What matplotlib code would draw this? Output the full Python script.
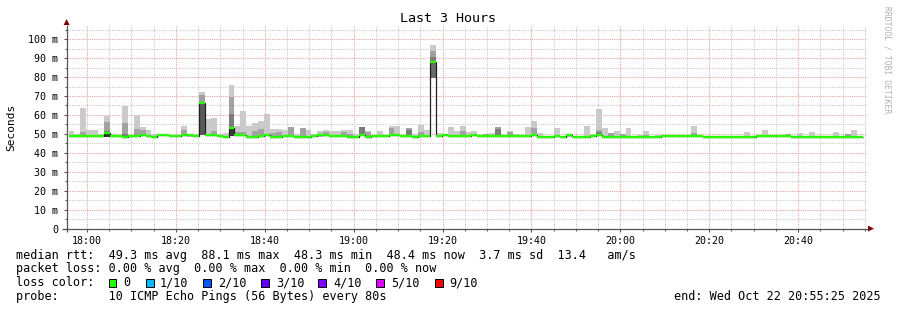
import numpy as np
import matplotlib
matplotlib.use("Agg")
import matplotlib.pyplot as plt
from matplotlib.ticker import MultipleLocator, FixedLocator, FuncFormatter
from matplotlib.patches import Rectangle, Polygon

# ---------------- data ----------------
start_min = 17 * 60 + 55 + 25 / 60.0      # graph start 17:55:25
end_min = 20 * 60 + 55 + 25 / 60.0        # graph end 20:55:25
first_bar_min = 17 * 60 + 55 + 51 / 60.0  # first probe slot 17:55:51
step_min = 80 / 60.0                      # probe every 80 s

median = [
    48.7, 49.0, 49.0, 49.0, 49.0, 48.8, 50.5, 49.0, 48.8, 48.5,
    48.8, 49.0, 49.3, 49.0, 48.4, 49.3, 49.5, 49.0, 48.8, 49.5,
    49.2, 49.0, 66.3, 49.3, 49.3, 49.0, 48.5, 53.3, 49.3, 49.3,
    48.6, 48.6, 48.8, 49.3, 48.6, 48.6, 48.8, 48.8, 48.6, 48.6,
    48.6, 49.0, 49.2, 49.3, 49.0, 49.0, 49.0, 48.6, 48.6, 49.6,
    48.6, 49.0, 49.0, 49.0, 49.3, 49.3, 49.0, 49.0, 48.6, 49.0,
    48.8, 88.1, 49.0, 49.3, 49.0, 49.0, 48.8, 49.0, 49.3, 49.0,
    48.8, 49.0, 48.8, 48.8, 49.0, 49.0, 49.0, 49.0, 49.5, 48.3,
    48.3, 48.3, 48.8, 48.3, 49.2, 48.3, 48.6, 48.6, 49.0, 49.3,
    48.3, 48.5, 48.5, 48.5, 48.5, 48.5, 48.5, 48.5, 48.5, 48.6,
    48.9, 48.9, 48.9, 48.9, 48.9, 48.9, 48.8, 48.5, 48.5, 48.5,
    48.5, 48.5, 48.5, 48.5, 48.5, 48.5, 48.8, 48.8, 48.8, 48.8,
    48.8, 48.8, 48.4, 48.4, 48.4, 48.4, 48.4, 48.4, 48.4, 48.4,
    48.4, 48.4, 48.4, 48.4,
]

# highest ping (lightest smoke top)
smoke_max = [
    51.6, 49.8, 63.8, 52.1, 52.0, 50.0, 59.6, 50.0, 49.5, 64.9,
    49.5, 60.1, 53.4, 52.0, 50.0, 49.8, 50.0, 49.5, 49.5, 54.4,
    50.0, 50.0, 72.3, 57.8, 58.4, 50.0, 50.5, 76.0, 54.3, 62.2,
    54.3, 56.0, 57.0, 60.5, 52.5, 52.5, 52.0, 53.6, 50.0, 53.1,
    52.0, 50.0, 51.7, 52.0, 51.6, 51.7, 52.1, 52.1, 50.0, 53.6,
    51.7, 49.5, 51.7, 49.5, 54.3, 54.3, 49.5, 53.0, 50.0, 54.8,
    52.0, 96.8, 50.5, 49.6, 53.4, 51.7, 54.3, 51.0, 51.7, 49.5,
    50.0, 50.5, 53.6, 49.5, 51.7, 50.0, 49.5, 53.6, 57.0, 50.5,
    48.8, 48.8, 53.0, 48.8, 49.5, 48.8, 49.0, 54.3, 50.0, 63.3,
    53.0, 50.3, 51.7, 50.0, 53.0, 48.8, 49.5, 51.7, 48.6, 49.6,
    49.0, 49.0, 49.0, 49.0, 49.0, 54.3, 49.0, 48.5, 48.5, 48.5,
    48.5, 48.5, 48.5, 48.5, 50.9, 48.8, 48.8, 52.1, 48.8, 48.8,
    48.8, 49.8, 48.4, 50.3, 48.4, 50.9, 48.4, 48.4, 48.4, 50.9,
    48.4, 49.8, 52.1, 48.4,
]

# medium smoke band top (index -> ms)
smoke_mid = {2: 51.2, 6: 56.4, 9: 56.0, 11: 52.7, 12: 51.8, 19: 52.0,
             22: 70.6, 24: 51.5, 27: 69.5, 28: 51.0, 29: 51.0, 31: 51.5,
             32: 52.5, 34: 50.5, 35: 51.0, 37: 53.6, 39: 53.1, 43: 51.0,
             46: 51.0, 47: 50.0, 49: 53.6, 50: 50.8, 54: 52.9, 57: 53.0,
             59: 51.0, 61: 93.6, 66: 51.7, 70: 50.0, 72: 53.6, 74: 51.0,
             78: 53.0, 89: 52.0, 91: 50.3, 93: 50.0, 97: 49.5, 105: 50.5,
             121: 49.8, 131: 49.8}

# dark smoke band top (index -> ms)
smoke_dark = {6: 51.4, 9: 50.0, 27: 60.5, 49: 53.6, 57: 52.1, 61: 90.5,
              72: 52.5, 89: 51.0}

# smoke below the median for the spikes: index -> (lowest ping, colour)
smoke_low = {6: (48.5, "#333333"),
             22: (49.5, "#5a5a5a"),
             27: (48.8, "#3a3a3a"),
             61: (79.6, "#6a6a6a")}

x_major = [18 * 60 + m for m in range(0, 180, 20)]
x_labels = ["18:00", "18:20", "18:40", "19:00", "19:20", "19:40",
            "20:00", "20:20", "20:40"]
y_major = list(range(0, 101, 10))

legend_lines = [
    "median rtt:  49.3 ms avg  88.1 ms max  48.3 ms min  48.4 ms now  3.7 ms sd  13.4   am/s",
    "packet loss: 0.00 % avg  0.00 % max  0.00 % min  0.00 % now",
    "loss color:",
    "probe:       10 ICMP Echo Pings (56 Bytes) every 80s",
]
loss_labels = ["0", "1/10", "2/10", "3/10", "4/10", "5/10", "9/10"]
loss_colors = ["#26ff00", "#00b8ff", "#0059ff", "#5e00ff", "#7e00ff", "#dd00ff", "#ff0000"]
end_text = "end: Wed Oct 22 20:55:25 2025"

# ---------------- figure ----------------
W, H = 897, 310
fig = plt.figure(figsize=(W / 100, H / 100), dpi=100)
fig.patch.set_facecolor("white")
MONO = "DejaVu Sans Mono"

L, R, T, B = 66.6, 866.6, 25.0, 228.6
ymax = (B - T) / 1.894
ax = fig.add_axes([L / W, 1 - B / H, (R - L) / W, (B - T) / H])
ax.set_xlim(start_min, end_min)
ax.set_ylim(0, ymax)
for s in ax.spines.values():
    s.set_visible(False)
ax.set_facecolor("white")

n_bars = len(median)
edges = first_bar_min + np.arange(n_bars + 1) * step_min
left = edges[:-1]
med = np.array(median)
base = med - 0.6

# smoke above the median
ax.bar(left, np.array(smoke_max) - base, bottom=base, width=step_min,
       align="edge", color="#cacaca", linewidth=0, zorder=2)
mi = np.array(sorted(smoke_mid))
ax.bar(left[mi], np.array([smoke_mid[i] for i in mi]) - base[mi], bottom=base[mi],
       width=step_min, align="edge", color="#a2a2a2", linewidth=0, zorder=3)
di = np.array(sorted(smoke_dark))
ax.bar(left[di], np.array([smoke_dark[i] for i in di]) - base[di], bottom=base[di],
       width=step_min, align="edge", color="#7c7c7c", linewidth=0, zorder=4)
# smoke below the median
for i, (lo, col) in smoke_low.items():
    ax.bar(left[i], med[i] - lo, bottom=lo, width=step_min, align="edge",
           color=col, linewidth=0, zorder=5)

# median: thin dark line with vertical joins, then loss-coloured segments
ax.stairs(med, edges, baseline=None, color="#202020", linewidth=0.9, zorder=6)
ax.hlines(med, left, left + step_min, color="#26ff00", linewidth=1.7,
          zorder=7, capstyle="butt")

# grid / ticks
ax.xaxis.set_major_locator(FixedLocator(x_major))
ax.xaxis.set_minor_locator(MultipleLocator(5))
ax.yaxis.set_major_locator(FixedLocator(y_major))
ax.yaxis.set_minor_locator(MultipleLocator(5))
ax.set_xticklabels(x_labels)
ax.yaxis.set_major_formatter(FuncFormatter(lambda v, p: "0" if v == 0 else f"{int(v)} m"))
ax.grid(which="major", color="#eaa4a4", linestyle=(0, (1, 1)), linewidth=0.8, zorder=0)
ax.grid(which="minor", color="#cccccc", linestyle=(0, (1, 1)), linewidth=0.8, zorder=0)
ax.set_axisbelow(True)
ax.tick_params(which="both", direction="out", color="#555555", width=0.8)
ax.tick_params(which="major", length=2.5)
ax.tick_params(which="minor", length=1.5)
ax.tick_params(axis="x", which="major", labelsize=7.2, pad=2.5)
ax.tick_params(axis="y", which="major", labelsize=7.2, pad=3.5)
for lab in ax.get_xticklabels() + ax.get_yticklabels():
    lab.set_fontfamily(MONO)

# overlay in pixel coordinates for axes lines, arrows and legend
ov = fig.add_axes([0, 0, 1, 1], facecolor="none")
ov.set_xlim(0, W)
ov.set_ylim(H, 0)
ov.axis("off")
ov.plot([62, 868], [B, B], color="#555555", lw=0.9, solid_capstyle="butt")
ov.plot([L, L], [232, 25], color="#555555", lw=0.9, solid_capstyle="butt")
ov.add_patch(Polygon([[L - 3, 25], [L + 3, 25], [L, 19]], closed=True, color="#7f0000", lw=0))
ov.add_patch(Polygon([[868, B - 3], [868, B + 3], [874, B]], closed=True, color="#7f0000", lw=0))

ov.text(448, 19, "Last 3 Hours", ha="center", va="center", fontsize=9.6, family=MONO)
ov.text(11, 127, "Seconds", ha="center", va="center", rotation=90, fontsize=8, family=MONO)
ov.text(887, 60, "RRDTOOL / TOBI OETIKER", ha="center", va="center", rotation=-90,
        fontsize=5.8, family=MONO, color="#b0b0b0")

rows_y = [255, 268.5, 282.7, 296.7]
for s, y in zip(legend_lines, rows_y):
    ov.text(16, y, s, ha="left", va="center", fontsize=8.5, family=MONO)
box_x = [108.5, 146, 203, 261, 318, 376, 435]
lab_x = [123, 160, 218, 276, 333, 391, 449]
for bx, lx, lab, col in zip(box_x, lab_x, loss_labels, loss_colors):
    ov.add_patch(Rectangle((bx, rows_y[2] - 4), 7.5, 8, facecolor=col, edgecolor="black", lw=0.7))
    ov.text(lx, rows_y[2], lab, ha="left", va="center", fontsize=8.5, family=MONO)
ov.text(881, rows_y[3], end_text, ha="right", va="center", fontsize=8.5, family=MONO)

fig.savefig("out.png", dpi=100, facecolor="white")
